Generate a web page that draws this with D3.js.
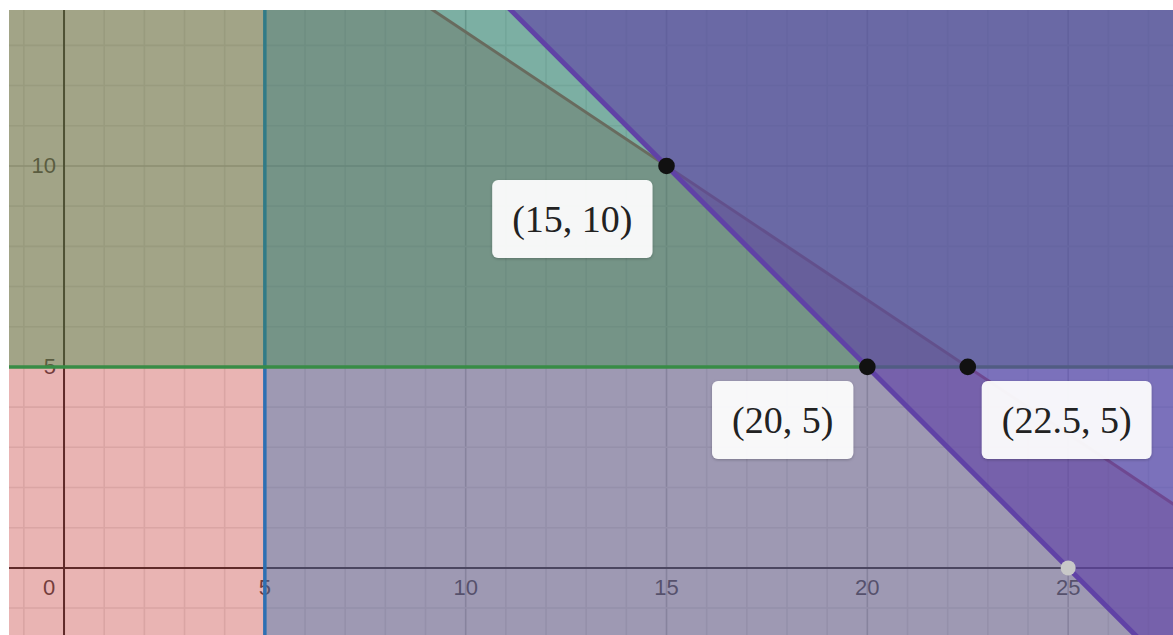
<!DOCTYPE html>
<meta charset="utf-8">
<script src="https://d3js.org/d3.v7.min.js"></script>
<style>
  body { margin: 0; background: #fff; }
</style>
<div id="my_dataviz"></div>
<script>

  // constraints a*x + b*y (>= or <=) c, in the order they are shaded
  var coefA = [2, 1, 0, 1];
  var coefB = [3, 0, 1, 1];
  var rhs   = [60, 5, 5, 25];
  var sense = [-1, 1, 1, 1];   // -1 means <=, 1 means >=

  // marked corner points and their labels
  var cornerX = [15, 20, 22.5];
  var cornerY = [10, 5, 5];
  var cornerLabels = ["(15, 10)", "(20, 5)", "(22.5, 5)"];
  var interceptX = [25];
  var interceptY = [0];

  // axis ticks
  var xTicks = [0, 5, 10, 15, 20, 25];
  var yTicks = [5, 10];

  // styles
  var colors = ["#c74440", "#2d70b3", "#388c46", "#6042a6"];
  var fillOpacity = [0.4, 0.4, 0.4, 0.64];
  var lineWidth = [3, 3.5, 3.5, 5];
  var labelSide = ["left", "left", "right"];

  var W = 1173, H = 635;
  var xDomain = [-1.37, 27.61], yDomain = [-1.67, 13.88];

  var x = d3.scaleLinear().domain(xDomain).range([9, W]);
  var y = d3.scaleLinear().domain(yDomain).range([H, 10]);

  var svg = d3.select("#my_dataviz")
    .append("svg")
      .attr("width", W)
      .attr("height", H);

  var defs = svg.append("defs");
  defs.append("clipPath").attr("id", "plotclip")
    .append("rect")
      .attr("x", x(xDomain[0])).attr("y", y(yDomain[1]))
      .attr("width", x(xDomain[1]) - x(xDomain[0]))
      .attr("height", y(yDomain[0]) - y(yDomain[1]));
  var shadow = defs.append("filter").attr("id", "shadow")
    .attr("x", "-20%").attr("y", "-20%").attr("width", "140%").attr("height", "150%");
  shadow.append("feDropShadow")
    .attr("dx", 0).attr("dy", 1).attr("stdDeviation", 1.5)
    .attr("flood-color", "#000").attr("flood-opacity", 0.25);

  var plot = svg.append("g").attr("clip-path", "url(#plotclip)");

  // grid
  var gx = d3.range(Math.ceil(xDomain[0]), Math.floor(xDomain[1]) + 1);
  var gy = d3.range(Math.ceil(yDomain[0]), Math.floor(yDomain[1]) + 1);
  plot.append("g").selectAll("line").data(gx).enter().append("line")
    .attr("x1", function(d) { return x(d); }).attr("x2", function(d) { return x(d); })
    .attr("y1", y(yDomain[0])).attr("y2", y(yDomain[1]))
    .attr("stroke", function(d) { return d % 5 === 0 ? "#c2c2c2" : "#e6e6e6"; })
    .attr("stroke-width", 1.6);
  plot.append("g").selectAll("line").data(gy).enter().append("line")
    .attr("y1", function(d) { return y(d); }).attr("y2", function(d) { return y(d); })
    .attr("x1", x(xDomain[0])).attr("x2", x(xDomain[1]))
    .attr("stroke", function(d) { return d % 5 === 0 ? "#c2c2c2" : "#e6e6e6"; })
    .attr("stroke-width", 1.6);

  // axes
  plot.append("line")
    .attr("x1", x(0)).attr("x2", x(0)).attr("y1", y(yDomain[0])).attr("y2", y(yDomain[1]))
    .attr("stroke", "#1a1a1a").attr("stroke-width", 2);
  plot.append("line")
    .attr("y1", y(0)).attr("y2", y(0)).attr("x1", x(xDomain[0])).attr("x2", x(xDomain[1]))
    .attr("stroke", "#1a1a1a").attr("stroke-width", 2);

  // tick labels
  var tickFont = "Arial, 'Liberation Sans', sans-serif";
  plot.append("g").selectAll("text").data(xTicks).enter().append("text")
    .attr("x", function(d) { return d === 0 ? x(0) - 15 : x(d); })
    .attr("y", y(0) + 20)
    .attr("text-anchor", "middle")
    .attr("dominant-baseline", "central")
    .style("font-family", tickFont).style("font-size", "22px")
    .attr("fill", "#3a3a3a")
    .text(function(d) { return d; });
  plot.append("g").selectAll("text").data(yTicks).enter().append("text")
    .attr("x", x(0) - 8)
    .attr("y", function(d) { return y(d); })
    .attr("text-anchor", "end")
    .attr("dominant-baseline", "central")
    .style("font-family", tickFont).style("font-size", "22px")
    .attr("fill", "#3a3a3a")
    .text(function(d) { return d; });

  // half plane clipping of the visible box
  function clipHalf(poly, a, b, c, s) {
    var f = function(p) { return s * (a * p[0] + b * p[1] - c); };
    var out = [];
    for (var i = 0; i < poly.length; i++) {
      var cur = poly[i], prev = poly[(i + poly.length - 1) % poly.length];
      var fc = f(cur), fp = f(prev);
      var cross = function() {
        var t = fp / (fp - fc);
        return [prev[0] + t * (cur[0] - prev[0]), prev[1] + t * (cur[1] - prev[1])];
      };
      if (fc >= 0) {
        if (fp < 0) out.push(cross());
        out.push(cur);
      } else if (fp >= 0) {
        out.push(cross());
      }
    }
    return out;
  }

  var pad = 3;
  var box = [[xDomain[0] - pad, yDomain[0] - pad], [xDomain[1] + pad, yDomain[0] - pad],
             [xDomain[1] + pad, yDomain[1] + pad], [xDomain[0] - pad, yDomain[1] + pad]];

  var area = d3.line().x(function(p) { return x(p[0]); }).y(function(p) { return y(p[1]); });

  function boundary(a, b, c) {
    if (b === 0) {
      return [[c / a, yDomain[0] - pad], [c / a, yDomain[1] + pad]];
    }
    var x0 = xDomain[0] - pad, x1 = xDomain[1] + pad;
    return [[x0, (c - a * x0) / b], [x1, (c - a * x1) / b]];
  }

  // shade each inequality, then draw its boundary line
  coefA.forEach(function(a, i) {
    var poly = clipHalf(box, a, coefB[i], rhs[i], sense[i]);
    plot.append("path")
      .attr("d", area(poly) + "Z")
      .attr("fill", colors[i])
      .attr("fill-opacity", fillOpacity[i]);
    plot.append("path")
      .attr("d", area(boundary(a, coefB[i], rhs[i])))
      .attr("stroke", colors[i])
      .attr("stroke-width", lineWidth[i])
      .attr("fill", "none");
  });

  // intercept point
  plot.selectAll(".icpt").data(interceptX).enter().append("circle")
    .attr("class", "icpt")
    .attr("cx", function(d) { return x(d); })
    .attr("cy", function(d, i) { return y(interceptY[i]); })
    .attr("r", 7.5)
    .attr("fill", "#c8c8c8");

  // corner points
  plot.selectAll(".corner").data(cornerX).enter().append("circle")
    .attr("class", "corner")
    .attr("cx", function(d) { return x(d); })
    .attr("cy", function(d, i) { return y(cornerY[i]); })
    .attr("r", 8.3)
    .attr("fill", "#111");

  // labels
  cornerX.forEach(function(cx, i) {
    var px = x(cx), py = y(cornerY[i]);
    var g = plot.append("g");
    var rect = g.append("rect")
      .attr("rx", 6).attr("ry", 6)
      .attr("fill", "#fff").attr("fill-opacity", 0.93)
      .attr("filter", "url(#shadow)");
    var t = g.append("text")
      .style("font-family", "'Liberation Serif', 'Times New Roman', serif")
      .style("font-size", "38px")
      .attr("fill", "#222")
      .attr("text-anchor", "middle")
      .attr("dominant-baseline", "central")
      .text(cornerLabels[i]);
    var bb = t.node().getBBox();
    var bw = bb.width + 40, bh = 78;
    var left = labelSide[i] === "left" ? px - 14 - bw : px + 14;
    var top = py + 14;
    rect.attr("x", left).attr("y", top).attr("width", bw).attr("height", bh);
    t.attr("x", left + bw / 2).attr("y", top + bh / 2);
  });

</script>
